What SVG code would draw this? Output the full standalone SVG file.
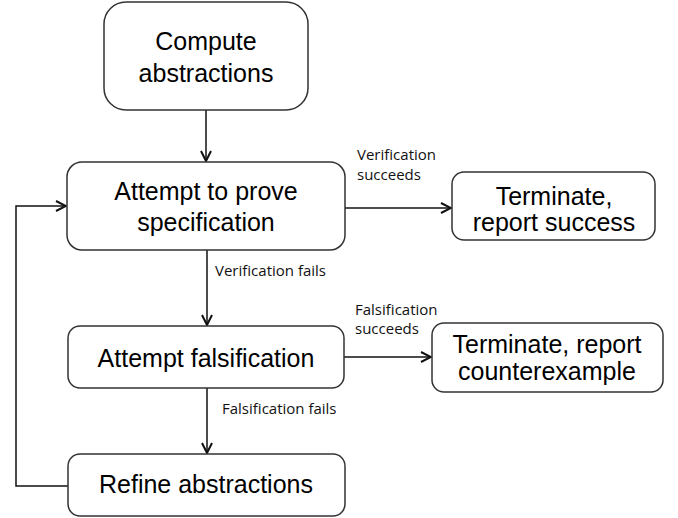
<svg xmlns="http://www.w3.org/2000/svg" width="678" height="518" viewBox="0 0 678 518">
<style>
.box{fill:#fff;stroke:#333;stroke-width:1.5}
.t{font-family:"Liberation Sans",Arial,sans-serif;font-size:25px;fill:#000;text-anchor:middle}
.l{font-family:"Open Sans","Noto Sans",sans-serif;font-size:15px;fill:#111}
.c{fill:none;stroke:#111;stroke-width:1.5}
</style>
<defs>
<marker id="ah" viewBox="0 0 12 12" refX="11" refY="6" markerWidth="12" markerHeight="12" markerUnits="userSpaceOnUse" orient="auto">
<path d="M1,1 L11,6 L1,11" fill="none" stroke="#111" stroke-width="2"/>
</marker>
</defs>
<rect width="678" height="518" fill="#fff"/>
<g id="connectors">
<line class="c" x1="206" y1="110" x2="206" y2="161" marker-end="url(#ah)"/>
<line class="c" x1="345" y1="208" x2="451" y2="208" marker-end="url(#ah)"/>
<line class="c" x1="207" y1="250" x2="207" y2="325" marker-end="url(#ah)"/>
<line class="c" x1="344" y1="357" x2="431" y2="357" marker-end="url(#ah)"/>
<line class="c" x1="207" y1="388" x2="207" y2="453" marker-end="url(#ah)"/>
<polyline class="c" points="68,486 16,486 16,206 66,206" marker-end="url(#ah)"/>
<text class="l" x="357" y="160">Verification</text>
<text class="l" x="357" y="180">succeeds</text>
<text class="l" x="215" y="276">Verification fails</text>
<text class="l" x="355" y="315">Falsification</text>
<text class="l" x="355" y="334">succeeds</text>
<text class="l" x="222" y="414">Falsification fails</text>
</g>
<g id="compute">
<rect class="box" x="104" y="2" width="204" height="108" rx="22"/>
<text class="t" x="206" y="50">Compute</text>
<text class="t" x="206" y="82">abstractions</text>
</g>
<g id="prove">
<rect class="box" x="67" y="162" width="278" height="88" rx="15"/>
<text class="t" x="206" y="200">Attempt to prove</text>
<text class="t" x="206" y="231">specification</text>
</g>
<g id="success">
<rect class="box" x="452" y="172" width="203" height="68" rx="12"/>
<text class="t" x="554" y="205">Terminate,</text>
<text class="t" x="554" y="231">report success</text>
</g>
<g id="falsify">
<rect class="box" x="68" y="326" width="276" height="62" rx="12"/>
<text class="t" x="206" y="367">Attempt falsification</text>
</g>
<g id="counterexample">
<rect class="box" x="432" y="323" width="231" height="69" rx="12"/>
<text class="t" x="547" y="353">Terminate, report</text>
<text class="t" x="547" y="380">counterexample</text>
</g>
<g id="refine">
<rect class="box" x="68" y="454" width="277" height="62" rx="12"/>
<text class="t" x="206" y="493">Refine abstractions</text>
</g>
</svg>
